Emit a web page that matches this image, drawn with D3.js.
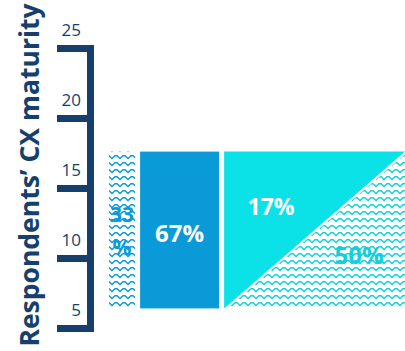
<!DOCTYPE html>
<html>
<head>
<meta charset="utf-8">
<script src="https://cdn.jsdelivr.net/npm/d3@7"></script>
<style>
  html, body { margin: 0; padding: 0; background: #fff; }
  text { font-family: "Open Sans", sans-serif; }
</style>
</head>
<body>
<div id="chart"></div>
<script>
// data
var axisTicks = [5, 10, 15, 20, 25];
var columnNames = ["left", "middle", "right"];
var columnShares = [9.6, 28.2, 62.2];   // relative widths of the columns
var barBottom = 6.4, barTop = 17.6;     // maturity range covered by the block
var segLabels = ["33\n%", "67%", "17%", "50%"];

var width = 405, height = 351;
var navy = "#173f6e", blue = "#0a9ad8", cyan = "#0ae2e8", cyanPat = "#12d0da";

var svg = d3.select("#chart").append("svg")
  .attr("width", width)
  .attr("height", height);

var defs = svg.append("defs");
function wave(id, color) {
  var p = defs.append("pattern")
    .attr("id", id)
    .attr("patternUnits", "userSpaceOnUse")
    .attr("width", 8)
    .attr("height", 7);
  p.append("path")
    .attr("d", "M-0.5,5 L3,1.8 L5,1.8 L8.5,5")
    .attr("fill", "none")
    .attr("stroke", color)
    .attr("stroke-width", 1.4);
}
wave("waveBlue", blue);
wave("waveCyan", cyanPat);

var y = d3.scaleLinear().domain([5, 25]).range([328, 48]);
var x = d3.scaleLinear().domain([0, 100]).range([109, 407]);

// axis
var axis = d3.axisLeft(y).tickValues(axisTicks).tickSize(33).tickSizeOuter(0);
var gAxis = svg.append("g")
  .attr("transform", "translate(90,0)")
  .call(axis);
gAxis.select(".domain")
  .attr("stroke", navy)
  .attr("stroke-width", 7)
  .attr("stroke-linecap", "square");
gAxis.selectAll(".tick line")
  .attr("stroke", navy)
  .attr("stroke-width", 7);
gAxis.selectAll(".tick text")
  .attr("x", -9)
  .attr("dy", "-13px")
  .attr("fill", navy)
  .attr("font-size", 17)
  .attr("font-family", "Open Sans, sans-serif");

svg.append("text")
  .attr("transform", "translate(39,175) rotate(-90)")
  .attr("text-anchor", "middle")
  .attr("fill", navy)
  .attr("font-size", 26.5)
  .attr("font-weight", 700)
  .text("Respondents’ CX maturity");

// columns
var cols = [];
var acc = 0;
columnShares.forEach(function(s, i) {
  cols.push({ name: columnNames[i], x0: x(acc) + (i > 0 ? 2.5 : 0), x1: x(acc + s) - 2.5 });
  acc += s;
});

var yT = y(barTop), yB = y(barBottom);

svg.append("rect")
  .attr("x", cols[0].x0).attr("y", yT)
  .attr("width", cols[0].x1 - cols[0].x0).attr("height", yB - yT)
  .attr("fill", "url(#waveBlue)");

svg.append("rect")
  .attr("x", cols[1].x0).attr("y", yT)
  .attr("width", cols[1].x1 - cols[1].x0).attr("height", yB - yT)
  .attr("fill", blue);

var r = cols[2];
var rx1 = 405;
svg.append("path")
  .attr("d", "M" + r.x0 + "," + yB + "L" + r.x0 + "," + yT + "L" + rx1 + "," + yT + "Z")
  .attr("fill", cyan);
svg.append("path")
  .attr("d", "M" + (r.x0 + 3) + "," + yB + "L" + rx1 + "," + (yT + 3) + "L" + rx1 + "," + yB + "Z")
  .attr("fill", "url(#waveCyan)");

// labels
var lab = svg.append("g").attr("font-weight", 700).attr("text-anchor", "middle");
var l0 = segLabels[0].split("\n");
lab.append("text").attr("x", (cols[0].x0 + cols[0].x1) / 2).attr("y", 222)
  .attr("fill", blue).attr("font-size", 21).text(l0[0]);
lab.append("text").attr("x", (cols[0].x0 + cols[0].x1) / 2).attr("y", 255)
  .attr("fill", blue).attr("font-size", 21).text(l0[1]);
lab.append("text").attr("x", (cols[1].x0 + cols[1].x1) / 2).attr("y", 242)
  .attr("fill", "#fff").attr("font-size", 24).text(segLabels[1]);
lab.append("text").attr("x", 271).attr("y", 215)
  .attr("fill", "#fff").attr("font-size", 23).text(segLabels[2]);
lab.append("text").attr("x", 359).attr("y", 264)
  .attr("fill", cyanPat).attr("font-size", 24).text(segLabels[3]);
</script>
</body>
</html>
